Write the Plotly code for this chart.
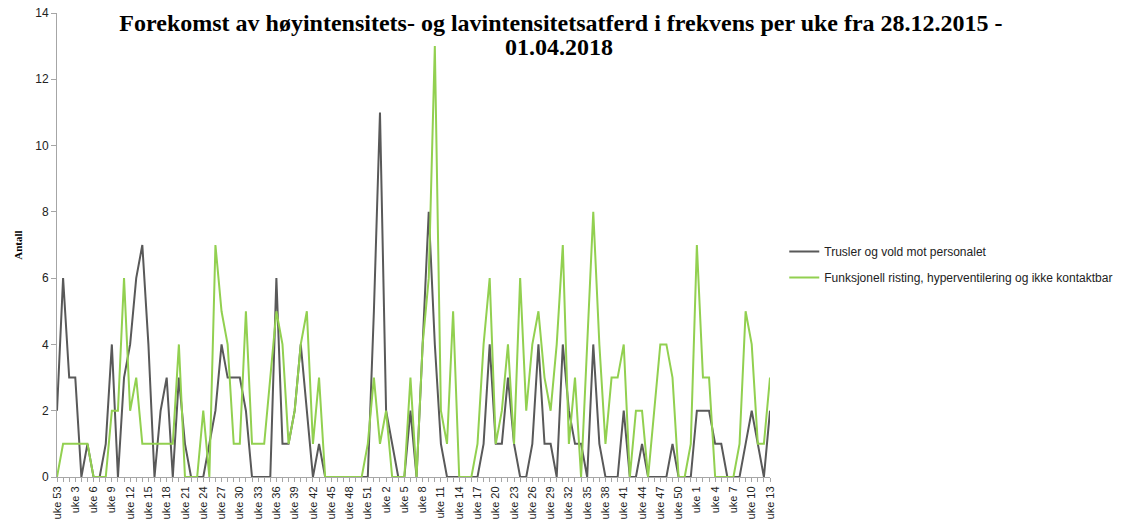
import plotly.graph_objects as go

# Week labels (2015 wk 53, 2016 wk 1-52, 2017 wk 1-52, 2018 wk 1-13)
weeks_2015 = [53]
weeks_2016 = list(range(1, 53))
weeks_2017 = list(range(1, 53))
weeks_2018 = list(range(1, 14))
week_labels = ["uke %d" % w for w in weeks_2015 + weeks_2016 + weeks_2017 + weeks_2018]

series_names = ["Trusler og vold mot personalet",
                "Funksjonell risting, hyperventilering og ikke kontaktbar"]

title_line1 = "Forekomst av høyintensitets- og lavintensitetsatferd i frekvens per uke fra 28.12.2015 -"
title_line2 = "01.04.2018"

trusler = [2, 6, 3, 3, 0, 1, 0, 0, 1, 4,
           0, 3, 4, 6, 7, 4, 0, 2, 3, 0,
           3, 1, 0, 0, 0, 1, 2, 4, 3, 3,
           3, 2, 0, 0, 0, 0, 6, 1, 1, 2,
           4, 2, 0, 1, 0, 0, 0, 0, 0, 0,
           0, 0, 5, 11, 2, 1, 0, 0, 2, 0,
           4, 8, 4, 1, 0, 0, 0, 0, 0, 0,
           1, 4, 1, 1, 3, 1, 0, 0, 1, 4,
           1, 1, 0, 4, 2, 1, 1, 0, 4, 1,
           0, 0, 0, 2, 0, 0, 1, 0, 0, 0,
           0, 1, 0, 0, 0, 2, 2, 2, 1, 1,
           0, 0, 0, 1, 2, 1, 0, 2]

funksjonell = [0, 1, 1, 1, 1, 1, 0, 0, 0, 2,
               2, 6, 2, 3, 1, 1, 1, 1, 1, 1,
               4, 0, 0, 0, 2, 0, 7, 5, 4, 1,
               1, 5, 1, 1, 1, 3, 5, 4, 1, 2,
               4, 5, 1, 3, 0, 0, 0, 0, 0, 0,
               0, 1, 3, 1, 2, 0, 0, 0, 3, 0,
               4, 6, 13, 2, 1, 5, 0, 0, 0, 1,
               4, 6, 1, 2, 4, 1, 6, 2, 4, 5,
               3, 2, 4, 7, 1, 3, 0, 4, 8, 4,
               1, 3, 3, 4, 0, 2, 2, 0, 2, 4,
               4, 3, 0, 0, 1, 7, 3, 3, 0, 0,
               0, 0, 1, 5, 4, 1, 1, 3]

assert len(trusler) == len(week_labels) == len(funksjonell)

x_idx = list(range(len(week_labels)))

W, H = 1130, 524

fig = go.Figure()
fig.add_trace(go.Scatter(x=x_idx, y=trusler, mode="lines", name=series_names[0],
                         legendgroup="a",
                         line=dict(color="#595959", width=2)))
fig.add_trace(go.Scatter(x=x_idx, y=funksjonell, mode="lines", name=series_names[1],
                         legendgroup="b",
                         line=dict(color="#92D050", width=2)))

title_font = dict(family="Liberation Serif", size=24, color="black")

fig.update_layout(
    width=W, height=H,
    margin=dict(l=57, r=358, t=13, b=47),
    plot_bgcolor="white", paper_bgcolor="white",
    title=dict(
        text="<b>" + title_line1 + "</b>",
        font=title_font,
        x=561 / W, xref="container", xanchor="center",
        y=(H - 23) / H, yref="container", yanchor="middle",
    ),
    legend=dict(
        x=1.02, xanchor="left", y=0.458, yanchor="middle",
        font=dict(family="Liberation Sans", size=12, color="#222"),
        bgcolor="rgba(0,0,0,0)", tracegroupgap=7, itemwidth=30,
    ),
    showlegend=True,
)
fig.add_annotation(
    text="<b>" + title_line2 + "</b>", font=title_font,
    xref="paper", yref="paper",
    x=(561 - 57) / 716, y=(477 - 47) / 464,
    xanchor="center", yanchor="middle", showarrow=False,
)

fig.update_xaxes(
    range=[0, len(week_labels) - 1],
    tickmode="array",
    tickvals=x_idx[::3],
    ticktext=week_labels[::3],
    tickangle=-90,
    tickfont=dict(family="Liberation Sans", size=11, color="#222"),
    ticks="outside", ticklen=4, tickcolor="#a6a6a6",
    minor=dict(tickmode="linear", tick0=0, dtick=1, ticks="outside", ticklen=4, tickcolor="#a6a6a6"),
    showline=True, linecolor="#a6a6a6", linewidth=1,
    showgrid=False, zeroline=False, automargin=False,
)
fig.update_yaxes(
    range=[0, 14], dtick=2,
    tickfont=dict(family="Liberation Sans", size=12, color="#222"),
    ticks="outside", ticklen=5, tickcolor="#a6a6a6",
    showline=True, linecolor="#a6a6a6", linewidth=1,
    showgrid=False, zeroline=False, automargin=False,
    title=dict(text="<b>Antall</b>", font=dict(family="Liberation Serif", size=11, color="black"), standoff=10),
)

fig.write_html("out.html", config={"displayModeBar": False},
               post_script="document.body.style.margin='0';document.body.style.padding='0';document.body.style.overflow='hidden';")
